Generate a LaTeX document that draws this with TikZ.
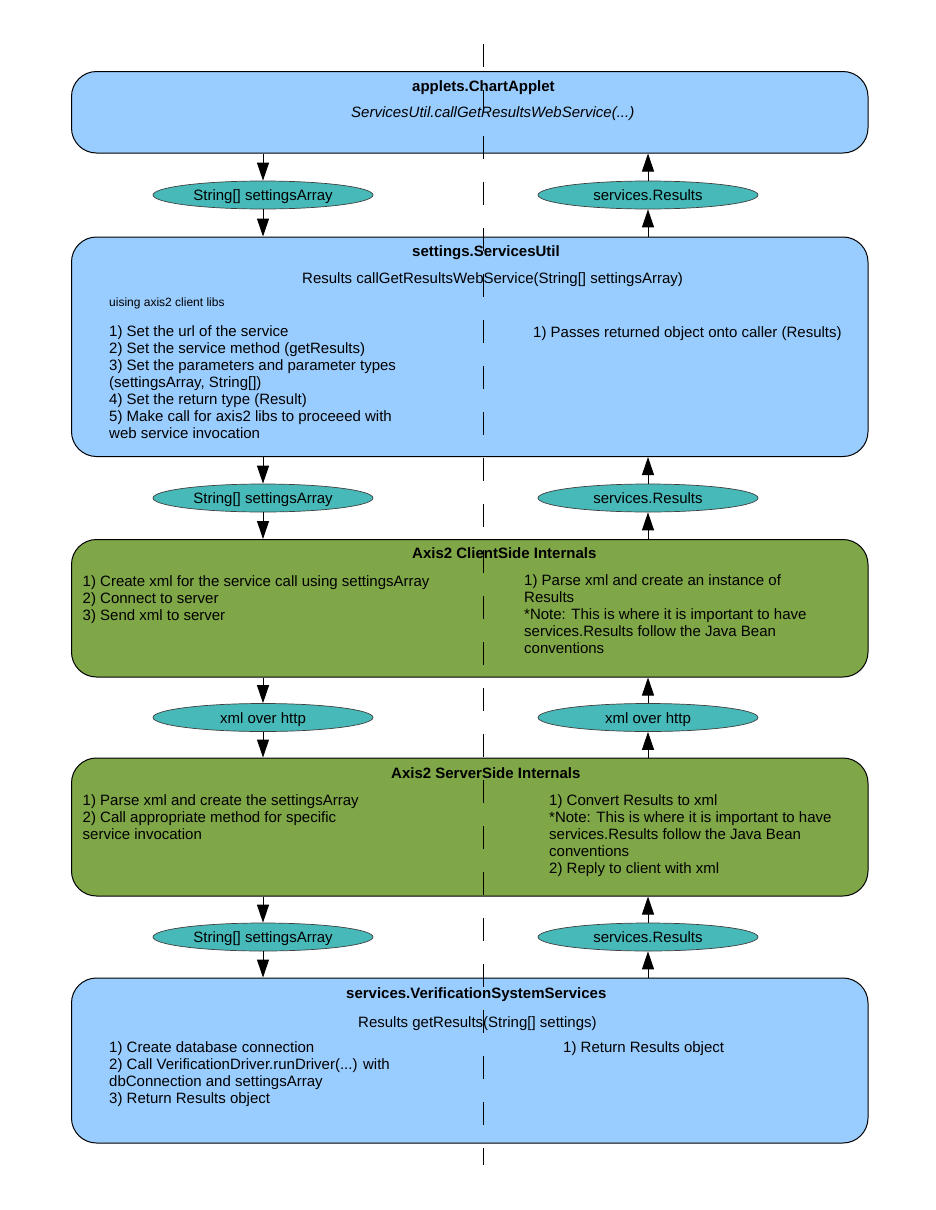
\documentclass[tikz,border=0pt]{standalone}
\usepackage{fontspec}
\setmainfont{Liberation Sans}
\usetikzlibrary{arrows.meta,shapes.geometric}
\definecolor{boxblue}{HTML}{99CCFF}
\definecolor{boxgreen}{HTML}{7FA647}
\definecolor{ovalteal}{HTML}{47B9B9}
\newcommand{\nsz}{\fontsize{15}{17}\selectfont}
\newcommand{\ssz}{\fontsize{12}{14}\selectfont}
\begin{document}
\begin{tikzpicture}[x=1pt,y=-1pt,
  panel/.style={draw=black, line width=1pt, rounded corners=25pt, minimum width=796.5pt, inner sep=0pt},
  bluepanel/.style={panel, fill=boxblue},
  greenpanel/.style={panel, fill=boxgreen},
  oval/.style={ellipse, draw=black!75, line width=0.7pt, fill=ovalteal, minimum width=220pt, minimum height=28pt, inner sep=0pt, text height=12pt, text depth=1pt, font=\nsz},
  txtline/.style={anchor=base west, inner sep=0pt, font=\nsz},
  ttl/.style={anchor=base west, inner sep=0pt, font=\nsz\bfseries},
  para/.style={anchor=north west, inner sep=0pt, align=left, font=\nsz},
  flowarrow/.style={draw=black, line width=1pt, -{Triangle[length=18pt,width=12pt]}},
  lifeline/.style={draw=black, line width=1pt, dash pattern=on 23pt off 23pt}
  ]
\useasboundingbox (0,0) rectangle (935,1210);

% panels
\node[bluepanel, minimum height=81.5pt] (chart) at (469.75,112.25) {};
\node[bluepanel, minimum height=219.5pt] (util) at (469.75,346.75) {};
\node[greenpanel, minimum height=137.5pt] (client) at (469.75,608.25) {};
\node[greenpanel, minimum height=138pt] (server) at (469.75,827) {};
\node[bluepanel, minimum height=165pt] (vss) at (469.75,1060.5) {};

% ovals
\node[oval] (sa1) at (263,195) {String[] settingsArray};
\node[oval] (sr1) at (648,195) {services.Results};
\node[oval] (sa2) at (263,498) {String[] settingsArray};
\node[oval] (sr2) at (648,498) {services.Results};
\node[oval] (xh1) at (263,717.5) {xml over http};
\node[oval] (xh2) at (648,717.5) {xml over http};
\node[oval] (sa3) at (263,937) {String[] settingsArray};
\node[oval] (sr3) at (648,937) {services.Results};

% downward flow
\draw[flowarrow] (chart.south -| sa1) -- (sa1.north);
\draw[flowarrow] (sa1.south) -- (util.north -| sa1);
\draw[flowarrow] (util.south -| sa2) -- (sa2.north);
\draw[flowarrow] (sa2.south) -- (client.north -| sa2);
\draw[flowarrow] (client.south -| xh1) -- (xh1.north);
\draw[flowarrow] (xh1.south) -- (server.north -| xh1);
\draw[flowarrow] (server.south -| sa3) -- (sa3.north);
\draw[flowarrow] (sa3.south) -- (vss.north -| sa3);

% upward flow
\draw[flowarrow] (vss.north -| sr3) -- (sr3.south);
\draw[flowarrow] (sr3.north) -- (server.south -| sr3);
\draw[flowarrow] (server.north -| xh2) -- (xh2.south);
\draw[flowarrow] (xh2.north) -- (client.south -| xh2);
\draw[flowarrow] (client.north -| sr2) -- (sr2.south);
\draw[flowarrow] (sr2.north) -- (util.south -| sr2);
\draw[flowarrow] (util.north -| sr1) -- (sr1.south);
\draw[flowarrow] (sr1.north) -- (chart.south -| sr1);

% box 1 texts
\node[ttl] (chartT) at (412,91) {applets.ChartApplet};
\node[txtline, font=\nsz\itshape] (chartS) at (351,117) {ServicesUtil.callGetResultsWebService(...)};

% box 2 texts
\node[ttl] (utilT) at (412,256) {settings.ServicesUtil};
\node[txtline] (utilS) at (302,283) {Results callGetResultsWebService(String[] settingsArray)};
\node[txtline, font=\ssz] (utilN) at (109,306) {uising axis2 client libs};
\node[para] (utilL) at (109,324.1) {\strut 1) Set the url of the service\\
2) Set the service method (getResults)\\
3) Set the parameters and parameter types\\
(settingsArray, String[])\\
4) Set the return type (Result)\\
5) Make call for axis2 libs to proceeed with\\
web service invocation};
\node[para] (utilR) at (533,325.6) {\strut 1) Passes returned object onto caller (Results)};

% box 3 texts
\node[ttl] (clientT) at (412,558) {Axis2 ClientSide Internals};
\node[para] (clientL) at (82.5,574.6) {\strut 1) Create xml for the service call using settingsArray\\
2) Connect to server\\
3) Send xml to server};
\node[para] (clientR) at (524,573.6) {\strut 1) Parse xml and create an instance of\\
Results\\
*Note: This is where it is important to have\\
services.Results follow the Java Bean\\
conventions};

% box 4 texts
\node[ttl] (serverT) at (391,778) {Axis2 ServerSide Internals};
\node[para] (serverL) at (82.5,793.1) {\strut 1) Parse xml and create the settingsArray\\
2) Call appropriate method for specific\\
service invocation};
\node[para] (serverR) at (549,793.1) {\strut 1) Convert Results to xml\\
*Note: This is where it is important to have\\
services.Results follow the Java Bean\\
conventions\\
2) Reply to client with xml};

% box 5 texts
\node[ttl] (vssT) at (346,998) {services.VerificationSystemServices};
\node[txtline] (vssS) at (358,1027) {Results getResults(String[] settings)};
\node[para] (vssL) at (109,1040.1) {\strut 1) Create database connection\\
2) Call VerificationDriver.runDriver(...) with\\
dbConnection and settingsArray\\
3) Return Results object};
\node[para] (vssR) at (563,1040.1) {\strut 1) Return Results object};

% lifeline
\coordinate (dtop) at (483,44);
\coordinate (dbot) at (483,1165);
\draw[lifeline] (dtop) -- (dbot);
\end{tikzpicture}
\end{document}
